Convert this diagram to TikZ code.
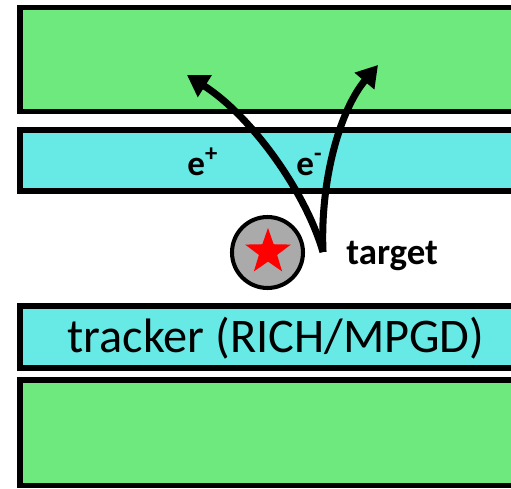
\documentclass[tikz,border=0pt]{standalone}
\usepackage{fontspec}
\setmainfont{Carlito}
\usetikzlibrary{arrows.meta,shapes.geometric}

\definecolor{calgreen}{RGB}{110,233,126}
\definecolor{trkcyan}{RGB}{103,233,230}
\definecolor{tgtgray}{RGB}{170,170,170}

\begin{document}
\begin{tikzpicture}[x=0.02cm, y=0.02cm,
    layer/.style={draw=black, line width=3pt},
    track/.style={line width=4pt, -{Triangle[length=12pt, width=14pt]}},
    lbl/.style={inner sep=0pt, anchor=base west, font=\fontsize{20}{24}\selectfont\bfseries}]

    % Picture frame, boxes run out past the right edge
    \useasboundingbox (0,0) rectangle (511,488);
    \clip (0,0) rectangle (511,488);

    % Calorimeter and tracker layers
    \draw[layer, fill=calgreen] (20,376.3) rectangle (540,480.7);
    \draw[layer, fill=trkcyan]  (20,297) rectangle (540,358);
    \draw[layer, fill=trkcyan]  (20,120) rectangle (540,182);
    \draw[layer, fill=calgreen] (20,2.5) rectangle (540,108);

    % Tracker label
    \node[inner sep=0pt, anchor=base, font=\fontsize{27.5}{31}\selectfont] (trk) at (276,136) {tracker (RICH/MPGD)};

    % The target with its star
    \node[circle, draw=black, line width=2.3pt, fill=tgtgray, minimum size=1.42cm, inner sep=0pt] (tgt) at (267.5,235.5) {};
    \node[star, star points=5, star point ratio=2.5, fill=red, minimum size=0.96cm, inner sep=0pt] (spot) at (268,236) {};
    \node[lbl, font=\fontsize{21}{25}\selectfont\bfseries] (tgtlbl) at (346,224) {target};

    % Pair vertex and the two tracks
    \coordinate (vtx) at (323,236);
    \coordinate (posend) at (187,413);
    \coordinate (negend) at (378,423);
    \draw[track] (vtx) .. controls (305,298) and (250,373) .. (posend);
    \draw[track] (vtx) .. controls (320,308) and (340,378) .. (negend);

    % Particle labels
    \node[lbl] (pos) at (187,313) {e\textsuperscript{+}};
    \node[lbl] (neg) at (296,313) {e\textsuperscript{-}};

\end{tikzpicture}
\end{document}
